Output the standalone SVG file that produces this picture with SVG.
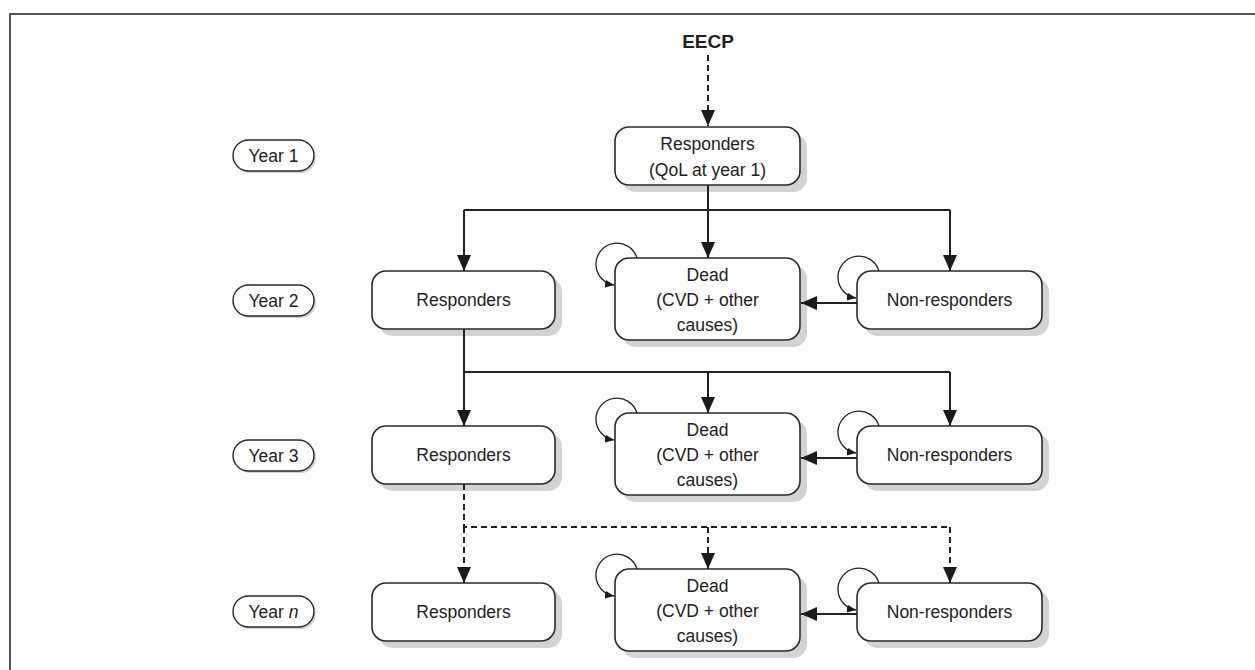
<svg xmlns="http://www.w3.org/2000/svg" width="1255" height="670" viewBox="0 0 1255 670">
<defs>
<style>
.box{fill:#fff;stroke:#2a2a2a;stroke-width:1.6}
.shadow{fill:#d3d3d3;stroke:none}
.pill{fill:#fff;stroke:#2a2a2a;stroke-width:1.4}
.t{font-family:"Liberation Sans",Arial,sans-serif;font-size:17.5px;fill:#222;text-anchor:middle}
.b{font-weight:bold;font-size:19px}
.ln{fill:none;stroke:#222;stroke-width:2}
.dash{stroke-dasharray:6 4}
.loop{fill:none;stroke:#222;stroke-width:1.3}
</style>
<marker id="ah" viewBox="0 0 16 16" markerWidth="16" markerHeight="16" refX="16" refY="8" orient="auto" markerUnits="userSpaceOnUse">
<path d="M0,1 L16,8 L0,15 z" fill="#1a1a1a"/>
</marker>
<marker id="sh" viewBox="0 0 9 9" markerWidth="9" markerHeight="9" refX="9" refY="4.5" orient="auto" markerUnits="userSpaceOnUse">
<path d="M0,0.5 L9,4.5 L0,8.5 z" fill="#1a1a1a"/>
</marker>
</defs>
<rect width="1255" height="670" fill="#fff"/>
<g id="frame">
<path d="M10,670 L10,14 L1255,14" fill="none" stroke="#555" stroke-width="2"/>
</g>

<g id="eecp"><text class="t b" x="708" y="48">EECP</text></g>

<g id="year1">
<rect class="shadow" x="235" y="142" width="81" height="31" rx="15.5"/>
<rect class="pill" x="233" y="140" width="81" height="31" rx="15.5"/>
<text class="t" x="273.5" y="162">Year 1</text>
</g>
<g id="year2">
<rect class="shadow" x="235" y="287" width="81" height="31" rx="15.5"/>
<rect class="pill" x="233" y="285" width="81" height="31" rx="15.5"/>
<text class="t" x="273.5" y="307">Year 2</text>
</g>
<g id="year3">
<rect class="shadow" x="235" y="442" width="81" height="31" rx="15.5"/>
<rect class="pill" x="233" y="440" width="81" height="31" rx="15.5"/>
<text class="t" x="273.5" y="462">Year 3</text>
</g>
<g id="yearn">
<rect class="shadow" x="235" y="598" width="81" height="31" rx="15.5"/>
<rect class="pill" x="233" y="596" width="81" height="31" rx="15.5"/>
<text class="t" x="273.5" y="618">Year <tspan font-style="italic">n</tspan></text>
</g>

<g id="resp1">
<rect class="shadow" x="622" y="134" width="185" height="58" rx="14"/>
<rect class="box" x="615" y="127" width="185" height="58" rx="14"/>
<text class="t" x="707.5" y="150">Responders</text>
<text class="t" x="707.5" y="176">(QoL at year 1)</text>
</g>

<g id="resp2">
<rect class="shadow" x="379" y="278" width="183" height="58" rx="14"/>
<rect class="box" x="372" y="271" width="183" height="58" rx="14"/>
<text class="t" x="463.5" y="306">Responders</text>
</g>
<g id="dead2">
<rect class="shadow" x="622" y="265" width="185" height="82" rx="14"/>
<rect class="box" x="615" y="258" width="185" height="82" rx="14"/>
<text class="t" x="707.5" y="281">Dead</text>
<text class="t" x="707.5" y="306">(CVD + other</text>
<text class="t" x="707.5" y="331">causes)</text>
</g>
<g id="nonresp2">
<rect class="shadow" x="864" y="278" width="185" height="58" rx="14"/>
<rect class="box" x="857" y="271" width="185" height="58" rx="14"/>
<text class="t" x="949.5" y="306">Non-responders</text>
</g>

<g id="resp3">
<rect class="shadow" x="379" y="433" width="183" height="58" rx="14"/>
<rect class="box" x="372" y="426" width="183" height="58" rx="14"/>
<text class="t" x="463.5" y="461">Responders</text>
</g>
<g id="dead3">
<rect class="shadow" x="622" y="420" width="185" height="82" rx="14"/>
<rect class="box" x="615" y="413" width="185" height="82" rx="14"/>
<text class="t" x="707.5" y="436">Dead</text>
<text class="t" x="707.5" y="461">(CVD + other</text>
<text class="t" x="707.5" y="486">causes)</text>
</g>
<g id="nonresp3">
<rect class="shadow" x="864" y="433" width="185" height="58" rx="14"/>
<rect class="box" x="857" y="426" width="185" height="58" rx="14"/>
<text class="t" x="949.5" y="461">Non-responders</text>
</g>

<g id="respn">
<rect class="shadow" x="379" y="590" width="183" height="58" rx="14"/>
<rect class="box" x="372" y="583" width="183" height="58" rx="14"/>
<text class="t" x="463.5" y="618">Responders</text>
</g>
<g id="deadn">
<rect class="shadow" x="622" y="576" width="185" height="82" rx="14"/>
<rect class="box" x="615" y="569" width="185" height="82" rx="14"/>
<text class="t" x="707.5" y="592">Dead</text>
<text class="t" x="707.5" y="617">(CVD + other</text>
<text class="t" x="707.5" y="642">causes)</text>
</g>
<g id="nonrespn">
<rect class="shadow" x="864" y="590" width="185" height="58" rx="14"/>
<rect class="box" x="857" y="583" width="185" height="58" rx="14"/>
<text class="t" x="949.5" y="618">Non-responders</text>
</g>

<g id="connectors">
<path class="ln dash" d="M708,55 L708,126" marker-end="url(#ah)"/>
<path class="ln" d="M708,185 L708,210 M464,210 L950,210"/>
<path class="ln" d="M464,210 L464,271" marker-end="url(#ah)"/>
<path class="ln" d="M708,210 L708,258" marker-end="url(#ah)"/>
<path class="ln" d="M950,210 L950,271" marker-end="url(#ah)"/>
<path class="ln" d="M857,303 L801,303" marker-end="url(#ah)"/>

<path class="ln" d="M464,329 L464,372 L950,372"/>
<path class="ln" d="M464,372 L464,426" marker-end="url(#ah)"/>
<path class="ln" d="M708,372 L708,413" marker-end="url(#ah)"/>
<path class="ln" d="M950,372 L950,426" marker-end="url(#ah)"/>
<path class="ln" d="M857,458 L801,458" marker-end="url(#ah)"/>

<path class="ln dash" d="M464,484 L464,527 L950,527"/>
<path class="ln dash" d="M464,527 L464,583" marker-end="url(#ah)"/>
<path class="ln dash" d="M708,527 L708,569" marker-end="url(#ah)"/>
<path class="ln dash" d="M950,527 L950,583" marker-end="url(#ah)"/>
<path class="ln" d="M857,614 L801,614" marker-end="url(#ah)"/>

<path class="loop" d="M637,258 A21,21 0 1 0 614,285" marker-end="url(#sh)"/>
<path class="loop" d="M879,271 A21,21 0 1 0 856,298" marker-end="url(#sh)"/>
<path class="loop" d="M637,413 A21,21 0 1 0 614,440" marker-end="url(#sh)"/>
<path class="loop" d="M879,426 A21,21 0 1 0 856,453" marker-end="url(#sh)"/>
<path class="loop" d="M637,569 A21,21 0 1 0 614,596" marker-end="url(#sh)"/>
<path class="loop" d="M879,583 A21,21 0 1 0 856,610" marker-end="url(#sh)"/>
</g>
</svg>
